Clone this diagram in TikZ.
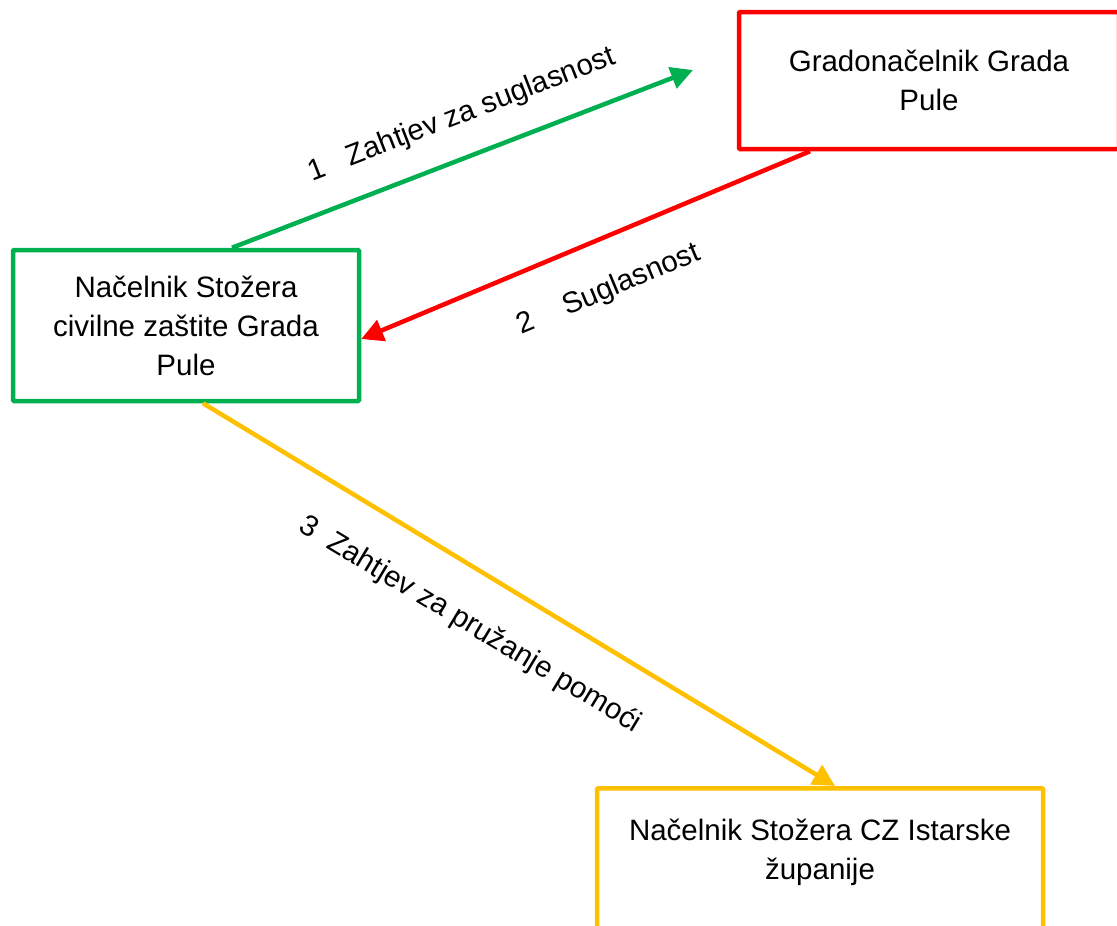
\documentclass[tikz,border=0pt]{standalone}
\usepackage{fontspec}
\setmainfont{Liberation Sans}
\usetikzlibrary{arrows.meta}
\definecolor{ppgreen}{HTML}{00B050}
\definecolor{ppred}{HTML}{FF0000}
\definecolor{ppyellow}{HTML}{FFC000}
\newcommand{\stozerFont}{\fontsize{29.5}{39}\selectfont}

\begin{document}
\begin{tikzpicture}[x=1pt, y=-1pt]
  \tikzset{every node/.style={font=\stozerFont},
    stozer/.style={draw, line width=4.5pt, align=center, inner sep=0pt, rounded corners=1pt},
    veza/.style={line width=4.5pt, -{Triangle[length=22pt,width=22pt]}},
    opis/.style={inner sep=0pt}}
  \useasboundingbox (0,0) rectangle (1117,926);
  \node[stozer, draw=ppgreen, minimum width=346pt, minimum height=151pt] (nacelnik) at (186,325.5)
    {Načelnik Stožera\\civilne zaštite Grada\\Pule};
  \node[stozer, draw=ppred, minimum width=380pt, minimum height=137pt] (gradonacelnik) at (929,80.5)
    {Gradonačelnik Grada\\Pule};
  \node[stozer, draw=ppyellow, anchor=north, minimum width=446pt, minimum height=162pt] (zupanija) at (820,786)
    {Načelnik Stožera CZ Istarske\\županije\\\mbox{}};
  \coordinate (zahtjev-vrh) at (693,70);
  \draw[veza, ppgreen] ([xshift=46pt]nacelnik.north) -- (zahtjev-vrh);
  \draw[veza, ppred] ([xshift=-119pt]gradonacelnik.south) -- ([yshift=-13.5pt]nacelnik.east);
  \draw[veza, ppyellow] ([xshift=17pt]nacelnik.south) -- ([xshift=15pt]zupanija.north);
  % oznake uz strelice
  \node[opis, rotate=21.2] (opis-1) at (462,115) {1\ \ \ Zahtjev za suglasnost};
  \node[opis, rotate=22.7] (opis-2) at (609,290) {2\ \ \ \ Suglasnost};
  \node[opis, rotate=-31] (opis-3) at (470,625) {3\ \ Zahtjev za pružanje pomoći};
\end{tikzpicture}
\end{document}
